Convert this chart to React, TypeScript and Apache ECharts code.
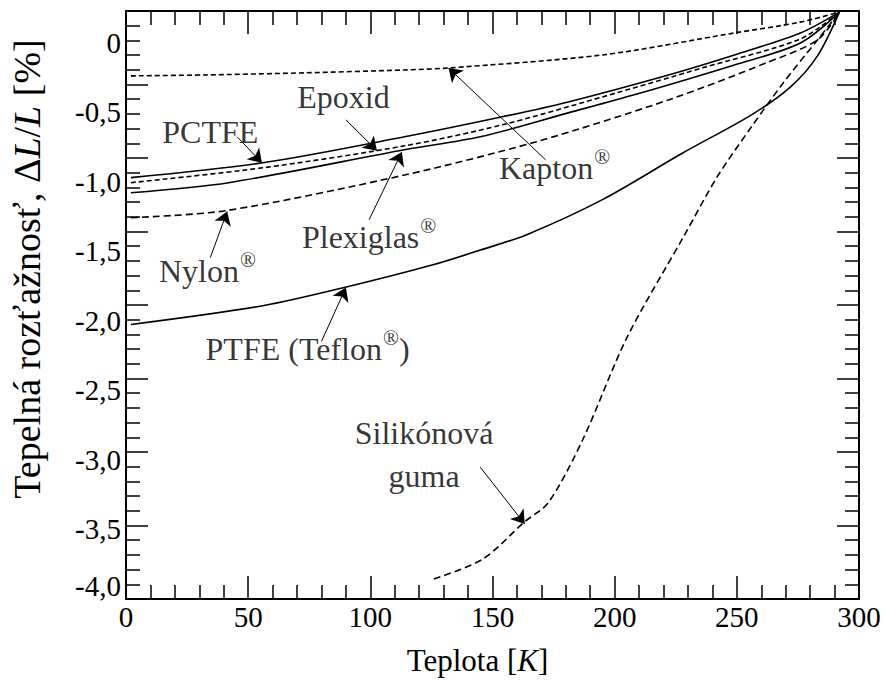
import React, { useEffect, useRef } from 'react';
import * as echarts from 'echarts';

// ---- axis labels ----
const xTickValues = [0, 50, 100, 150, 200, 250, 300];
const xTickLabels = ['0', '50', '100', '150', '200', '250', '300'];
const yTickValues = [0, -0.5, -1, -1.5, -2, -2.5, -3, -3.5, -4];
const yTickLabels = ['0', '-0,5', '-1,0', '-1,5', '-2,0', '-2,5', '-3,0', '-3,5', '{b|-4,0}'];

// ---- series (temperature K, relative expansion %) ----
const kaptonT = [2, 32, 73, 114, 132, 195, 249, 276, 292];
const kaptonV = [-0.237, -0.23, -0.215, -0.194, -0.18, -0.086, 0.072, 0.15, 0.222];

const pctfeT = [2, 56, 114, 154, 181, 222, 249, 276, 292];
const pctfeV = [-0.969, -0.862, -0.675, -0.531, -0.424, -0.23, -0.086, 0.072, 0.222];

const epoxidT = [2, 56, 114, 154, 195, 236, 276, 292];
const epoxidV = [-1.005, -0.898, -0.74, -0.589, -0.388, -0.179, 0.029, 0.222];

const plexiT = [2, 42, 114, 145, 181, 208, 249, 276, 292];
const plexiV = [-1.077, -1.005, -0.768, -0.675, -0.503, -0.373, -0.158, 0.0, 0.222];

const nylonT = [2, 41, 114, 168, 222, 262, 283, 292];
const nylonV = [-1.257, -1.206, -0.95, -0.71, -0.41, -0.143, 0.022, 0.222];

const ptfeT = [2, 56, 91, 126, 145, 164, 195, 228, 256, 272, 283, 292];
const ptfeV = [-2.025, -1.89, -1.752, -1.594, -1.49, -1.379, -1.127, -0.79, -0.517, -0.316, -0.093, 0.222];

const siliconT = [126, 146, 163, 173, 187, 205, 228, 242, 256, 269, 283, 292];
const siliconV = [-3.856, -3.713, -3.447, -3.303, -2.851, -2.12, -1.4, -0.962, -0.603, -0.287, 0.022, 0.222];

// ---- annotations (data coordinates) ----
const annTexts = ['PCTFE', 'Epoxid', 'Plexiglas{r|®}', 'Nylon{r|®}', 'PTFE (Teflon{r|®})', 'Kapton{r|®}', 'Silikónová\nguma'];
const annTextPos = [[34.5, -0.64], [89, -0.39], [99.5, -1.393], [33.3, -1.644], [74.3, -2.205], [175.4, -0.898], [122, -2.96]];
const annTail = [[45.5, -0.675], [90, -0.553], [99.5, -1.271], [34.5, -1.544], [80, -2.147], [171.7, -0.84], [145, -3.052]];
const annHead = [[55.6, -0.862], [102.7, -0.775], [112.9, -0.785], [41.4, -1.213], [90, -1.76], [132, -0.18], [163.2, -3.46]];

const FONT = 'Liberation Serif';

export default function App() {
  const ref = useRef<HTMLDivElement>(null);
  useEffect(() => {
    const chart = echarts.init(ref.current as HTMLDivElement, null, { renderer: 'svg' });
    const zip = (T: number[], V: number[]) => T.map((t, i) => [t, V[i]]);
    const curve = (name: string, T: number[], V: number[], type: any) => ({
      type: 'line',
      name,
      data: zip(T, V),
      xAxisIndex: 0,
      yAxisIndex: 0,
      symbol: 'none',
      smooth: 0.3,
      silent: true,
      z: 3,
      lineStyle: { color: '#000', width: 1.6, type },
    });
    const frameTick = {
      axisLine: { show: true, onZero: false, lineStyle: { color: '#000', width: 2 } },
      axisLabel: { show: false },
      splitLine: { show: false },
    };
    const richX = {
      i: { fontFamily: FONT, fontStyle: 'italic', fontSize: 31, color: '#000' },
    };
    const richY = {
      i: { fontFamily: FONT, fontStyle: 'italic', fontSize: 38, color: '#000' },
    };
    chart.setOption({
      animation: false,
      backgroundColor: '#fff',
      grid: { left: 120, right: 25, top: 11, bottom: 81, containLabel: false },
      xAxis: [
        {
          type: 'value', min: 0, max: 300, interval: 50, position: 'bottom',
          name: 'Teplota [{i|K}]', nameLocation: 'middle', nameGap: 46,
          nameTextStyle: { fontFamily: FONT, fontSize: 31, color: '#000', rich: richX, padding: [0, 30, 0, 0] },
          axisLine: { show: true, onZero: false, lineStyle: { color: '#000', width: 2 } },
          axisTick: { show: true, inside: true, length: 23, lineStyle: { color: '#000', width: 1.5 } },
          minorTick: { show: true, splitNumber: 5, length: 14, lineStyle: { color: '#000', width: 1.5 } },
          axisLabel: {
            show: true, margin: 3, fontFamily: FONT, fontSize: 29, color: '#000',
            formatter: (v: number) => { const k = xTickValues.indexOf(v); return k >= 0 ? xTickLabels[k] : ''; },
          },
          splitLine: { show: false },
        },
        {
          type: 'value', min: 0, max: 300, interval: 50, position: 'top',
          ...frameTick,
          axisTick: { show: true, inside: true, length: 23, lineStyle: { color: '#000', width: 1.5 } },
          minorTick: { show: true, splitNumber: 5, length: 14, lineStyle: { color: '#000', width: 1.5 } },
        },
      ],
      yAxis: [
        {
          type: 'value', min: -4, max: 0.23, interval: 0.5, position: 'left',
          name: 'Tepelná rozťažnosť, Δ{i|L}/{i|L} [%]', nameLocation: 'middle', nameGap: 80, nameRotate: 90,
          nameTextStyle: { fontFamily: FONT, fontSize: 38, color: '#000', rich: richY, padding: [0, 0, 0, 72] },
          axisLine: { show: false },
          axisTick: { show: false },
          axisLabel: {
            show: true, margin: 5, fontFamily: FONT, fontSize: 29, color: '#000', showMaxLabel: false,
            formatter: (v: number) => {
              const k = yTickValues.findIndex((t) => Math.abs(t - v) < 1e-6);
              return k >= 0 ? yTickLabels[k] : '';
            },
            rich: {
              b: { fontFamily: FONT, fontSize: 29, color: '#000', padding: [0, 0, 26, 0] },
            },
          },
          splitLine: { show: false },
        },
        {
          type: 'value', min: 0, max: 8, interval: 1, position: 'left',
          ...frameTick,
          axisTick: { show: true, inside: true, length: 22, lineStyle: { color: '#000', width: 1.5 } },
          minorTick: { show: true, splitNumber: 5, length: 14, lineStyle: { color: '#000', width: 1.5 } },
        },
        {
          type: 'value', min: 0, max: 8, interval: 1, position: 'right',
          ...frameTick,
          axisTick: { show: true, inside: true, length: 22, lineStyle: { color: '#000', width: 1.5 } },
          minorTick: { show: true, splitNumber: 5, length: 14, lineStyle: { color: '#000', width: 1.5 } },
        },
      ],
      series: [
        curve('Kapton', kaptonT, kaptonV, [5, 3]),
        curve('PCTFE', pctfeT, pctfeV, 'solid'),
        curve('Epoxid', epoxidT, epoxidV, [5, 3]),
        curve('Plexiglas', plexiT, plexiV, 'solid'),
        curve('Nylon', nylonT, nylonV, [7, 4]),
        curve('PTFE', ptfeT, ptfeV, 'solid'),
        curve('Silikón', siliconT, siliconV, [7, 4]),
        {
          type: 'lines',
          coordinateSystem: 'cartesian2d',
          xAxisIndex: 0,
          yAxisIndex: 0,
          silent: true,
          z: 4,
          symbol: ['none', 'arrow'],
          symbolSize: [1, 13],
          lineStyle: { color: '#000', width: 1, curveness: 0, opacity: 1 },
          data: annTail.map((t, i) => ({ coords: [t, annHead[i]] })),
        },
        {
          type: 'scatter',
          xAxisIndex: 0,
          yAxisIndex: 0,
          silent: true,
          z: 5,
          symbolSize: 1,
          itemStyle: { color: 'rgba(0,0,0,0)' },
          data: annTextPos.map((p, i) => ({ value: p, name: annTexts[i] })),
          label: {
            show: true,
            position: 'inside',
            formatter: (p: any) => p.name,
            fontFamily: FONT,
            fontSize: 32,
            lineHeight: 43,
            color: '#000',
            align: 'center',
            verticalAlign: 'middle',
            rich: {
              r: { fontFamily: FONT, fontSize: 21, verticalAlign: 'top', color: '#000', padding: [0, 0, 13, 1] },
            },
          },
        },
      ],
    });
    return () => chart.dispose();
  }, []);
  return <div ref={ref} style={{ position: 'absolute', left: 0, top: 0, width: 884, height: 681, background: '#fff' }} />;
}
